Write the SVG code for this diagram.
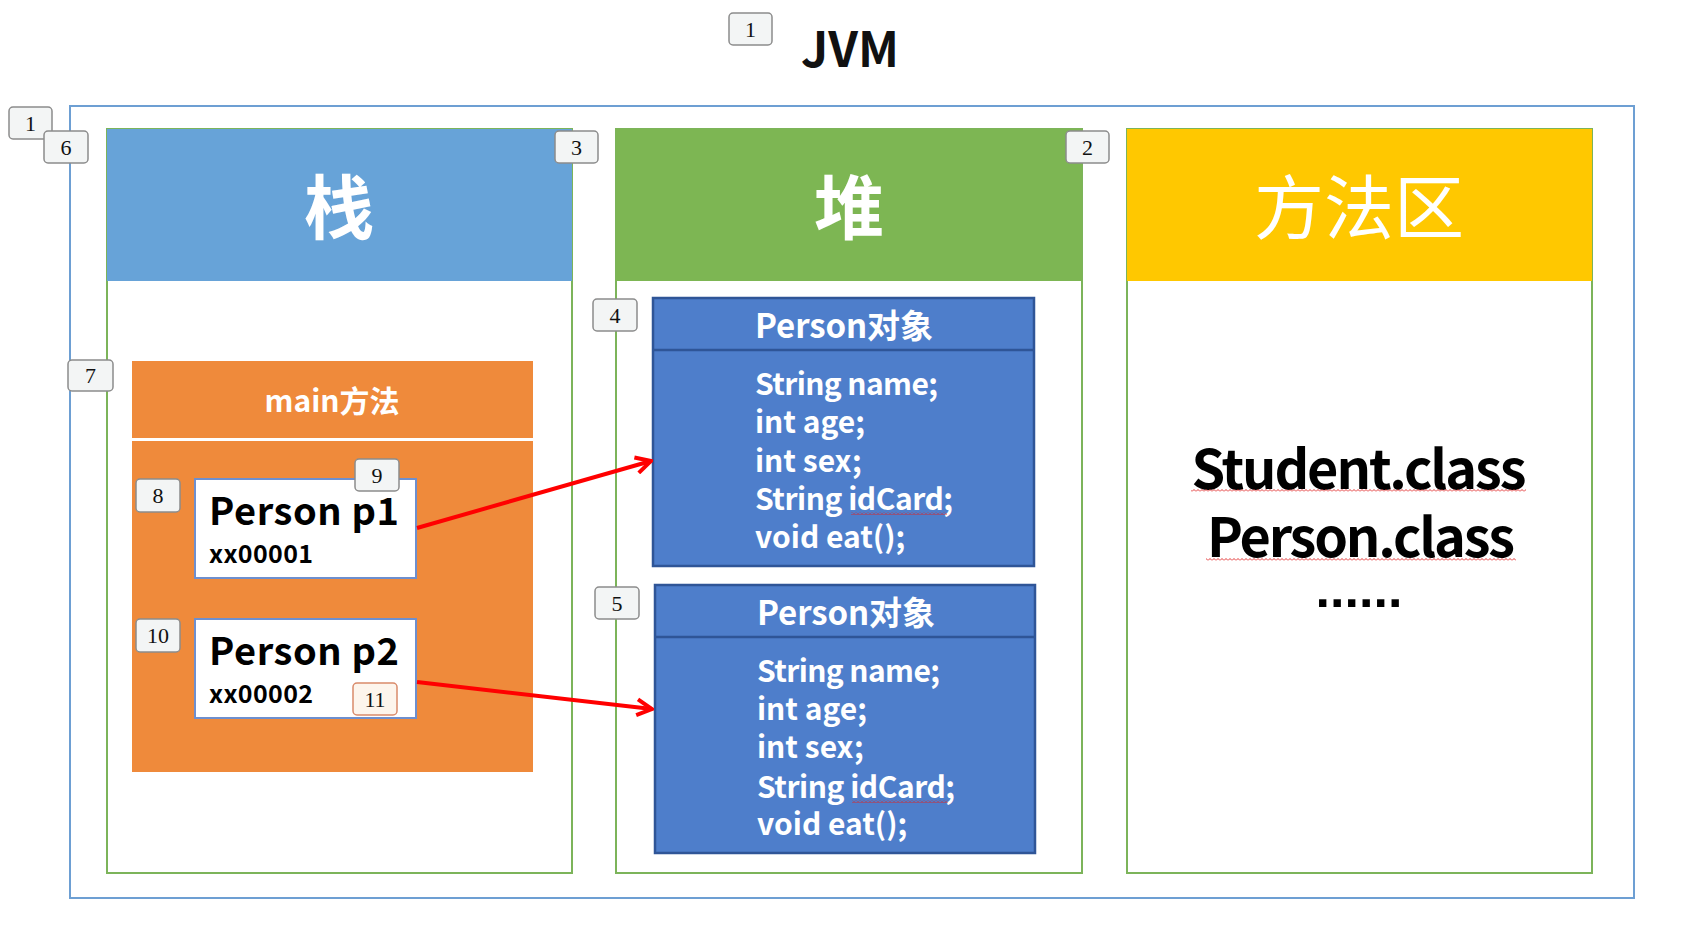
<svg xmlns="http://www.w3.org/2000/svg" width="1700" height="952" viewBox="0 0 1700 952">
<style>
.col{fill:#ffffff;stroke:#7cb45a;stroke-width:2}
.hdr{font-family:"Noto Sans CJK SC","Noto Sans",sans-serif;font-weight:bold;fill:#ffffff;text-anchor:middle}
.sans{font-family:"Noto Sans CJK SC","Noto Sans",sans-serif;font-weight:bold}
.obj{fill:#4e7ecb;stroke:#2f5597;stroke-width:2.5}
.objt{font-family:"Noto Sans CJK SC","Noto Sans",sans-serif;font-weight:bold;fill:#ffffff;font-size:30px}
.ref{fill:#ffffff;stroke:#6e8fce;stroke-width:2}
.badge rect{fill:#f3f5f5;stroke:#8c8c8c;stroke-width:1.5}
.badge text{font-family:"Liberation Serif",serif;font-size:22px;fill:#111;text-anchor:middle}
.conn{stroke:#ff0000;stroke-width:4;fill:none;marker-end:url(#arr)}
</style>
<defs>
<marker id="arr" viewBox="0 0 20 20" refX="18" refY="10" markerWidth="20" markerHeight="20" markerUnits="userSpaceOnUse" orient="auto">
<path d="M3,2 L18,10 L3,18" fill="none" stroke="#ff0000" stroke-width="4" stroke-linejoin="miter"/>
</marker>
<pattern id="wv" width="4" height="3" patternUnits="userSpaceOnUse">
<path d="M0,2.5 L2,0.5 L4,2.5" stroke="#e02020" stroke-width="0.9" fill="none"/>
</pattern>
</defs>
<rect width="1700" height="952" fill="#ffffff"/>

<g id="title">
<text x="850" y="67" class="sans" font-size="48" text-anchor="middle" fill="#111">JVM</text>
</g>

<g id="jvm">
<rect x="70" y="106" width="1564" height="792" fill="none" stroke="#6d9fd3" stroke-width="2"/>
</g>

<g id="stack">
<rect x="107" y="129" width="465" height="744" class="col"/>
<rect x="107" y="129" width="465" height="152" fill="#67a3d8"/>
<text x="339" y="234" class="hdr" font-size="70">栈</text>
</g>

<g id="heap">
<rect x="616" y="129" width="466" height="744" class="col"/>
<rect x="616" y="129" width="466" height="152" fill="#7db653"/>
<text x="849" y="234" class="hdr" font-size="70">堆</text>
</g>

<g id="methodArea">
<rect x="1127" y="129" width="465" height="744" class="col"/>
<rect x="1127" y="129" width="465" height="152" fill="#ffc800"/>
<text x="1359" y="234" class="hdr" font-size="70" style="font-weight:normal">方法区</text>
<text x="1359" y="489" class="sans" font-size="54" text-anchor="middle" fill="#000" textLength="335">Student.class</text>
<text x="1361" y="557" class="sans" font-size="54" text-anchor="middle" fill="#000" textLength="308">Person.class</text>
<text x="1359" y="607" font-family="Liberation Sans, Arial, sans-serif" font-weight="bold" font-size="52" text-anchor="middle" fill="#000" textLength="87">......</text>
<rect x="1191" y="489" width="335" height="3" fill="url(#wv)"/>
<rect x="1206" y="558" width="310" height="3" fill="url(#wv)"/>
</g>

<g id="mainMethod">
<rect x="132" y="361" width="401" height="77" fill="#ef8a3b"/>
<rect x="132" y="441" width="401" height="331" fill="#ef8a3b"/>
<text x="332" y="412" class="sans" font-size="30" text-anchor="middle" fill="#ffffff">main方法</text>
</g>

<g id="p1">
<rect x="195" y="479" width="221" height="99" class="ref"/>
<text x="209" y="525" class="sans" font-size="38" fill="#000" textLength="190">Person p1</text>
<text x="209" y="563" class="sans" font-size="25" fill="#000" textLength="104">xx00001</text>
</g>

<g id="p2">
<rect x="195" y="619" width="221" height="99" class="ref"/>
<text x="209" y="665" class="sans" font-size="38" fill="#000" textLength="190">Person p2</text>
<text x="209" y="703" class="sans" font-size="25" fill="#000" textLength="104">xx00002</text>
</g>

<g id="obj1">
<rect x="653" y="298" width="381" height="268" class="obj"/>
<line x1="653" y1="350" x2="1034" y2="350" stroke="#2f5597" stroke-width="2.5"/>
<text x="755" y="338" class="objt" style="font-size:33px" textLength="178">Person对象</text>
<text x="755" y="395" class="objt" textLength="183">String name;</text>
<text x="755" y="433" class="objt">int age;</text>
<text x="755" y="472" class="objt">int sex;</text>
<text x="755" y="510" class="objt" textLength="198">String idCard;</text>
<text x="755" y="548" class="objt">void eat();</text>
<rect x="851" y="512" width="96" height="3" fill="url(#wv)"/>
</g>

<g id="obj2">
<rect x="655" y="585" width="380" height="268" class="obj"/>
<line x1="655" y1="637" x2="1035" y2="637" stroke="#2f5597" stroke-width="2.5"/>
<text x="757" y="625" class="objt" style="font-size:33px" textLength="178">Person对象</text>
<text x="757" y="682" class="objt" textLength="183">String name;</text>
<text x="757" y="720" class="objt">int age;</text>
<text x="757" y="758" class="objt">int sex;</text>
<text x="757" y="798" class="objt" textLength="198">String idCard;</text>
<text x="757" y="835" class="objt">void eat();</text>
<rect x="852" y="800" width="96" height="3" fill="url(#wv)"/>
</g>

<g id="connectors">
<line x1="417" y1="528" x2="651" y2="461" class="conn"/>
<line x1="417" y1="682" x2="652" y2="709" class="conn"/>
</g>

<g id="badges">
<g class="badge"><rect x="729" y="13" width="43" height="32" rx="4"/><text x="750.5" y="37">1</text></g>
<g class="badge"><rect x="9" y="107" width="43" height="32" rx="4"/><text x="30.5" y="131">1</text></g>
<g class="badge"><rect x="44" y="131" width="44" height="32" rx="4"/><text x="66" y="155">6</text></g>
<g class="badge"><rect x="555" y="131" width="43" height="32" rx="4"/><text x="576.5" y="155">3</text></g>
<g class="badge"><rect x="1066" y="131" width="43" height="32" rx="4"/><text x="1087.5" y="155">2</text></g>
<g class="badge"><rect x="593" y="299" width="44" height="32" rx="4"/><text x="615" y="323">4</text></g>
<g class="badge"><rect x="595" y="587" width="44" height="32" rx="4"/><text x="617" y="611">5</text></g>
<g class="badge"><rect x="68" y="360" width="45" height="31" rx="4"/><text x="90.5" y="383">7</text></g>
<g class="badge"><rect x="136" y="479" width="44" height="33" rx="4"/><text x="158" y="503">8</text></g>
<g class="badge"><rect x="355" y="459" width="44" height="32" rx="4"/><text x="377" y="483">9</text></g>
<g class="badge"><rect x="136" y="619" width="44" height="33" rx="4"/><text x="158" y="643">10</text></g>
<g class="badge"><rect x="353" y="683" width="44" height="32" rx="4" style="fill:#fdf5ec;stroke:#d98a6a"/><text x="375" y="707">11</text></g>
</g>
</svg>
